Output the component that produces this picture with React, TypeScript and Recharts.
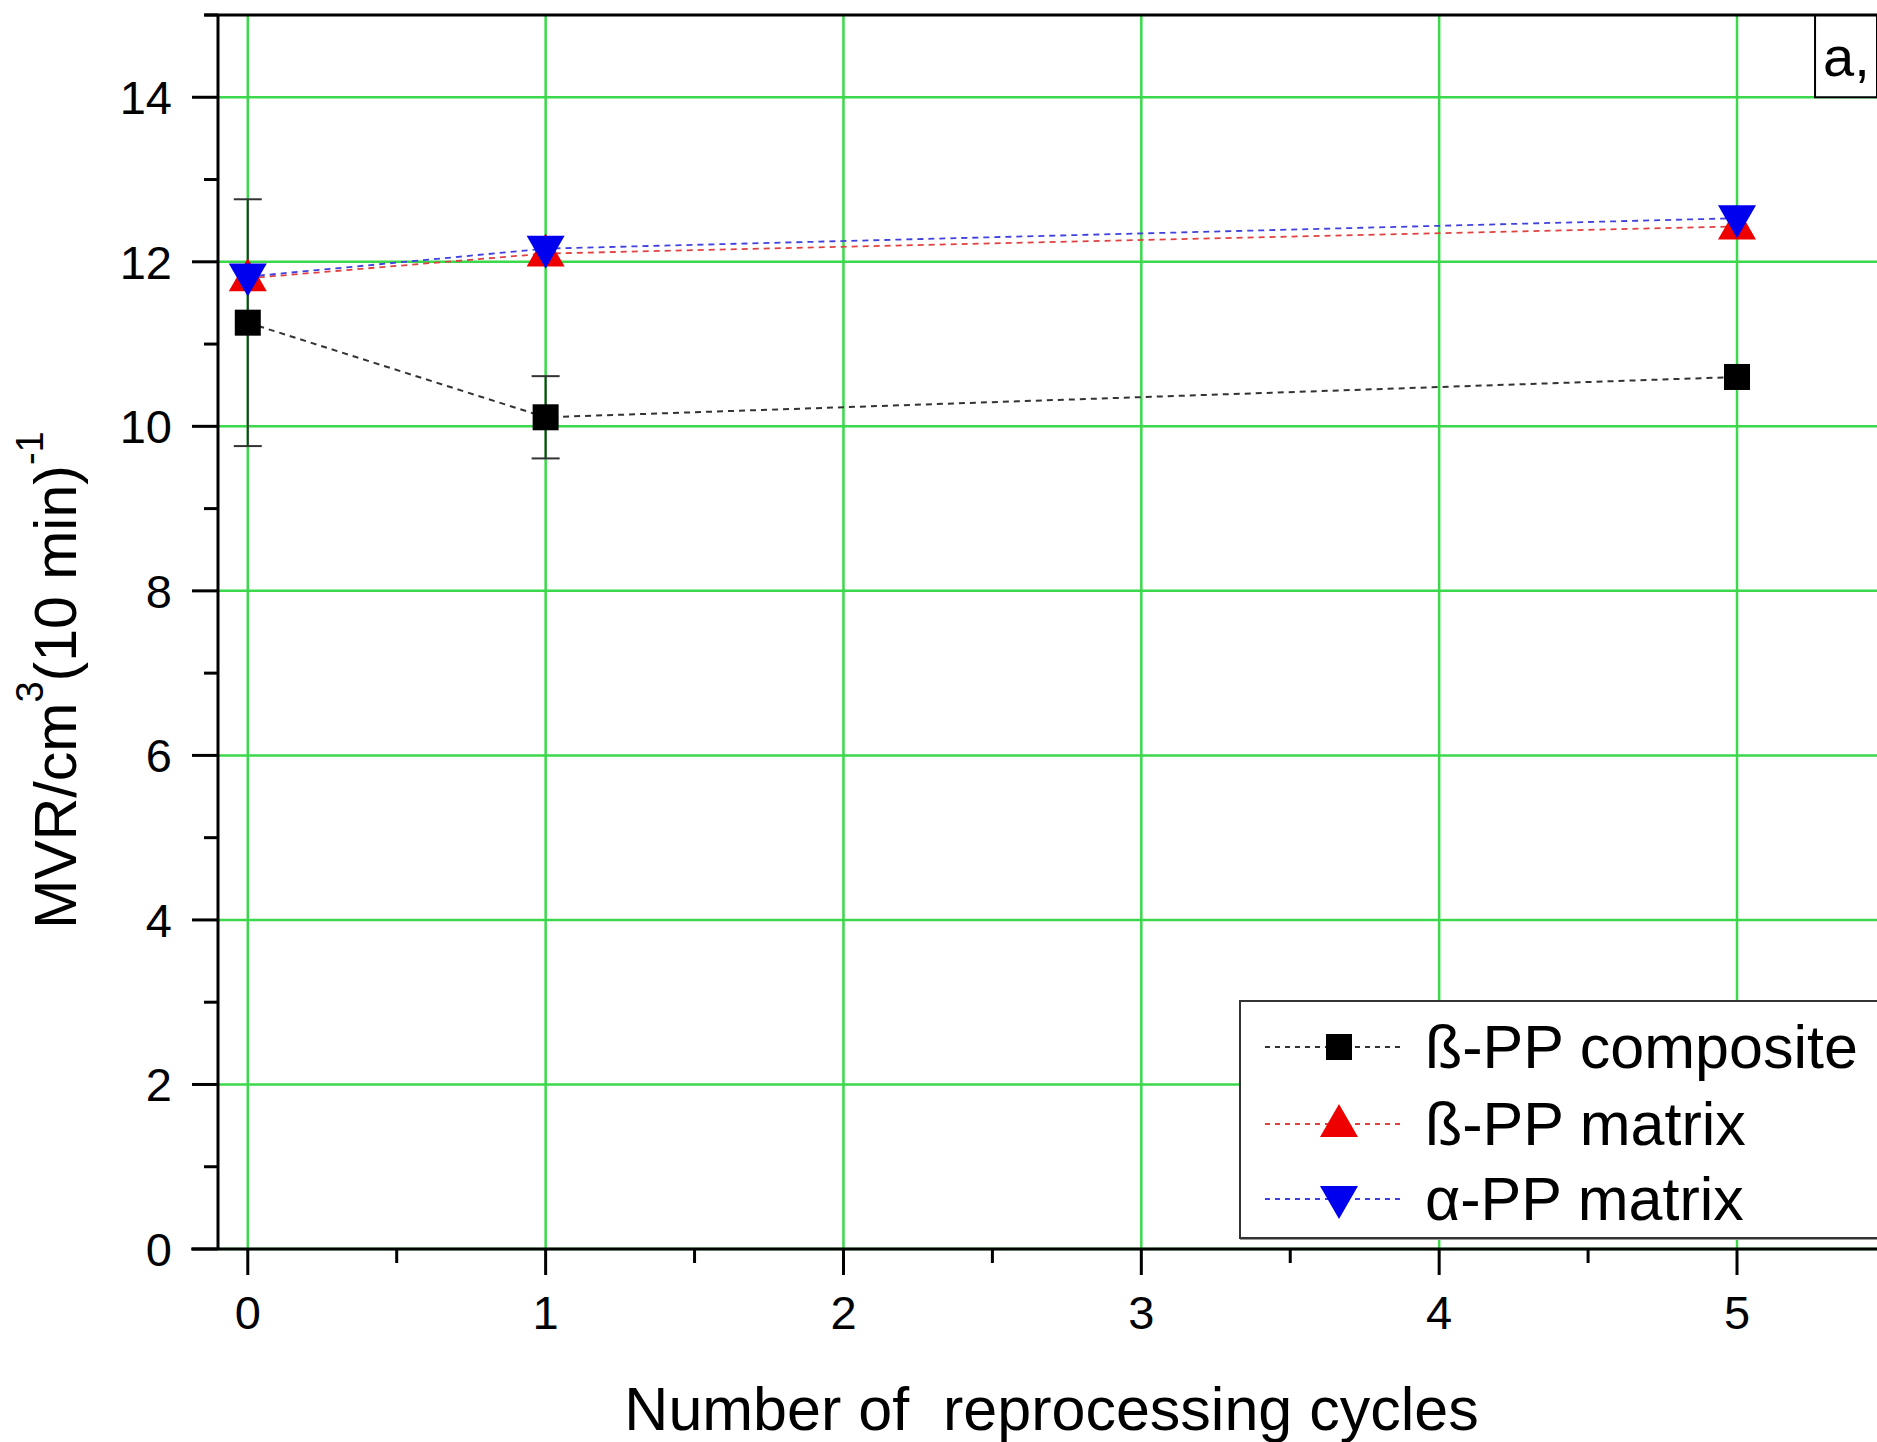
import {
  ComposedChart,
  Line,
  XAxis,
  YAxis,
  CartesianGrid,
  Legend,
  ErrorBar,
  ReferenceArea,
  ReferenceLine,
} from "recharts";

const FONT = '"Liberation Sans", Arial, Helvetica, sans-serif';

const cycles = [0, 1, 5];
const composite = [11.26, 10.11, 10.6];
const compositeErr = [1.5, 0.5, 0];
const betaMatrix = [11.8, 12.1, 12.43];
const alphaMatrix = [11.82, 12.16, 12.53];

const xTicks = [0, 0.5, 1, 1.5, 2, 2.5, 3, 3.5, 4, 4.5, 5];
const yTicks = [0, 1, 2, 3, 4, 5, 6, 7, 8, 9, 10, 11, 12, 13, 14, 15];
const xGrid = [0, 1, 2, 3, 4, 5];
const yGrid = [0, 2, 4, 6, 8, 10, 12, 14];

const seriesNames = ["ß-PP composite", "ß-PP matrix", "α-PP matrix"];
const seriesColors = ["#222", "#ee0000", "#0000ee"];
const lineColors = ["#333", "#e04040", "#4040e0"];

const data = cycles.map((c, i) => ({
  cycle: c,
  composite: composite[i],
  compositeErr: compositeErr[i],
  beta: betaMatrix[i],
  alpha: alphaMatrix[i],
}));

function Marker({ kind, cx, cy }: { kind: number; cx: number; cy: number }) {
  if (kind === 0) {
    return <rect x={cx - 13} y={cy - 13} width={26} height={26} fill="#000" />;
  }
  if (kind === 1) {
    return (
      <polygon
        points={`${cx},${cy - 20} ${cx - 19},${cy + 13} ${cx + 19},${cy + 13}`}
        fill={seriesColors[1]}
      />
    );
  }
  return (
    <polygon
      points={`${cx},${cy + 20} ${cx - 19},${cy - 13} ${cx + 19},${cy - 13}`}
      fill={seriesColors[2]}
    />
  );
}

function dotFor(kind: number) {
  return (p: any) => (
    <g key={`m-${kind}-${p.index}`}>
      <Marker kind={kind} cx={p.cx} cy={p.cy} />
    </g>
  );
}

function YTick(props: any) {
  const { x, y, payload } = props;
  const major = payload.value % 2 === 0;
  return (
    <g>
      <line x1={x - (major ? 26 : 14)} x2={x} y1={y} y2={y} stroke="#000" strokeWidth={3} />
      {major && (
        <text x={x - 46} y={y} dy="0.36em" textAnchor="end" fontSize={47} fill="#000">
          {payload.value}
        </text>
      )}
    </g>
  );
}

function XTick(props: any) {
  const { x, y, payload } = props;
  const major = Number.isInteger(payload.value);
  return (
    <g>
      <line x1={x} x2={x} y1={y} y2={y + (major ? 26 : 14)} stroke="#000" strokeWidth={3} />
      {major && (
        <text x={x} y={y + 63} dy="0.36em" textAnchor="middle" fontSize={47} fill="#000">
          {payload.value}
        </text>
      )}
    </g>
  );
}

function YTitle(props: any) {
  const vb = props.viewBox;
  const cx = vb.x + 56;
  const cy = vb.y + vb.height / 2 + 48;
  return (
    <text
      x={cx}
      y={cy}
      transform={`rotate(-90 ${cx} ${cy})`}
      textAnchor="middle"
      dominantBaseline="central"
      fontSize={59}
      fill="#000"
    >
      MVR/cm
      <tspan fontSize={38} dy={-26}>3</tspan>
      <tspan dy={26}>(10 min)</tspan>
      <tspan fontSize={38} dy={-26}>-1</tspan>
    </text>
  );
}

function XTitle(props: any) {
  const vb = props.viewBox;
  return (
    <text
      x={vb.x + vb.width / 2 + 4}
      y={vb.y + 181}
      textAnchor="middle"
      fontSize={61}
      fill="#000"
    >
      Number of{"\u00a0 "}reprocessing cycles
    </text>
  );
}

function LegendBox() {
  const centers = [45, 122, 197];
  return (
    <div
      style={{
        width: 700,
        height: 239,
        border: "2px solid #333",
        boxSizing: "border-box",
        background: "#fff",
        position: "relative",
        fontFamily: FONT,
        boxShadow: "1px 1px 0 #999",
      }}
    >
      {seriesNames.map((name, i) => (
        <div
          key={name}
          style={{
            position: "absolute",
            left: 0,
            top: centers[i] - 38,
            height: 76,
            display: "flex",
            alignItems: "center",
          }}
        >
          <svg width={170} height={76}>
            <line
              x1={24}
              x2={164}
              y1={38}
              y2={38}
              stroke={lineColors[i]}
              strokeWidth={1.8}
              strokeDasharray="5 5"
            />
            <Marker kind={i} cx={98} cy={38} />
          </svg>
          <span style={{ fontSize: 61, lineHeight: 1, marginLeft: 14, color: "#000" }}>{name}</span>
        </div>
      ))}
    </div>
  );
}

export default function App() {
  return (
    <div
      style={{
        position: "absolute",
        left: 0,
        top: 0,
        width: 1877,
        height: 1442,
        overflow: "hidden",
        background: "#fff",
        fontFamily: FONT,
      }}
    >
      <ComposedChart
        width={1877}
        height={1442}
        data={data}
        margin={{ top: 15, right: 0, bottom: 0, left: 0 }}
        style={{ fontFamily: FONT }}
      >
        <CartesianGrid
          horizontalValues={yGrid}
          verticalValues={xGrid}
          stroke="#3ad84a"
          strokeWidth={2.5}
        />
        <XAxis
          dataKey="cycle"
          type="number"
          domain={[-0.1, 5.47]}
          ticks={xTicks}
          interval={0}
          height={193}
          tickSize={0}
          tickMargin={0}
          tickLine={false}
          axisLine={{ stroke: "#000", strokeWidth: 3 }}
          tick={(p: any) => <XTick {...p} />}
          label={<XTitle />}
          allowDataOverflow
        />
        <YAxis
          type="number"
          domain={[0, 15]}
          ticks={yTicks}
          interval={0}
          width={218}
          tickSize={0}
          tickMargin={0}
          tickLine={false}
          axisLine={{ stroke: "#000", strokeWidth: 3 }}
          tick={(p: any) => <YTick {...p} />}
          label={<YTitle />}
          allowDataOverflow
        />
        <ReferenceLine
          segment={[
            { x: -0.145, y: 15 },
            { x: 5.47, y: 15 },
          ]}
          ifOverflow="visible"
          stroke="#000"
          strokeWidth={3}
        />
        <ReferenceLine
          segment={[
            { x: -0.19, y: 0 },
            { x: -0.1, y: 0 },
          ]}
          ifOverflow="visible"
          stroke="#000"
          strokeWidth={3}
        />
        <Line
          dataKey="composite"
          type="linear"
          stroke={lineColors[0]}
          strokeWidth={2}
          strokeDasharray="6 5"
          dot={dotFor(0)}
          activeDot={false}
          isAnimationActive={false}
        >
          <ErrorBar dataKey="compositeErr" direction="y" width={14} stroke="#333" strokeWidth={2} />
        </Line>
        <Line
          dataKey="beta"
          type="linear"
          stroke={lineColors[1]}
          strokeWidth={1.8}
          strokeDasharray="6 5"
          dot={dotFor(1)}
          activeDot={false}
          isAnimationActive={false}
        />
        <Line
          dataKey="alpha"
          type="linear"
          stroke={lineColors[2]}
          strokeWidth={1.8}
          strokeDasharray="6 5"
          dot={dotFor(2)}
          activeDot={false}
          isAnimationActive={false}
        />
        <ReferenceArea
          x1={5.262}
          x2={5.47}
          y1={14}
          y2={15}
          fill="#fff"
          fillOpacity={1}
          stroke="#000"
          strokeWidth={2}
          label={{ value: "a,", position: "insideLeft", offset: 8, fontSize: 56, fill: "#000" }}
        />
        <Legend
          layout="vertical"
          align="center"
          verticalAlign="middle"
          wrapperStyle={{ left: 1239, top: 1000, width: 700, height: 239 }}
          content={() => <LegendBox />}
        />
      </ComposedChart>
    </div>
  );
}
